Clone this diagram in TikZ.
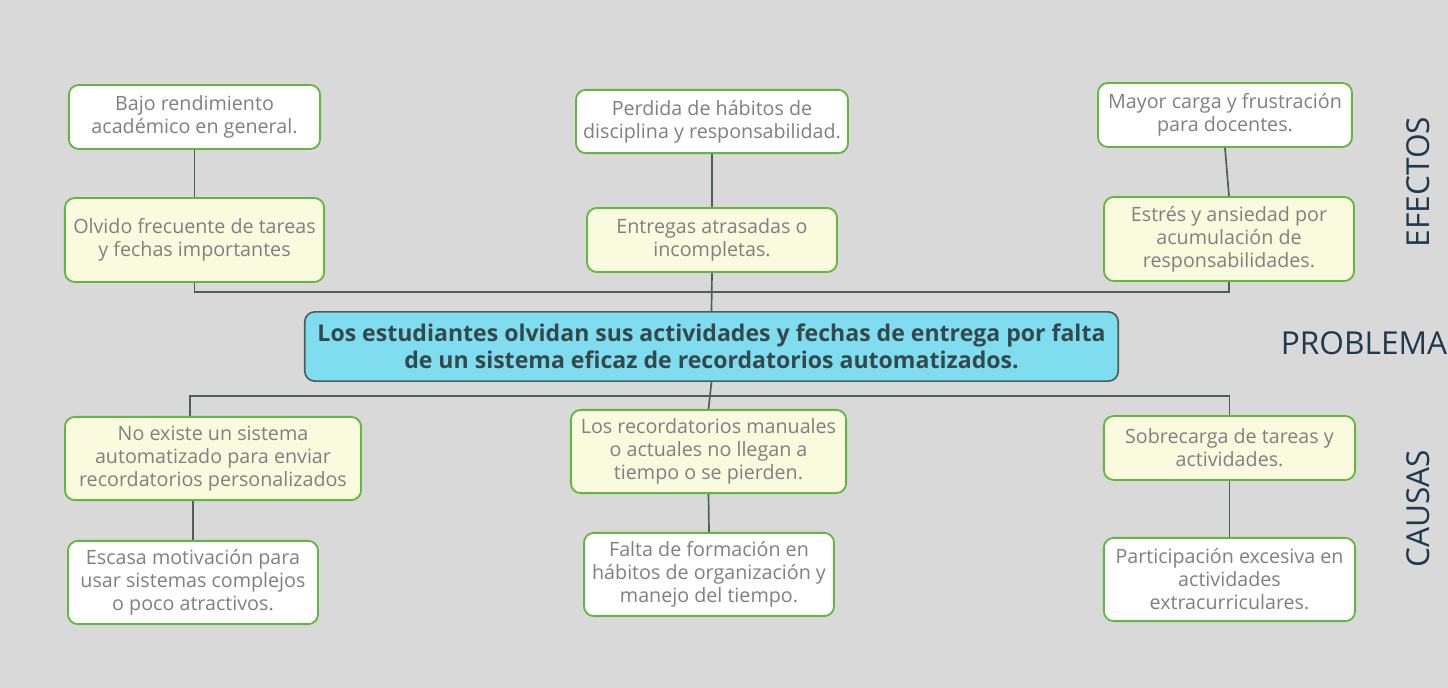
\documentclass[tikz,border=0pt]{standalone}
\usepackage{fontspec}
\setmainfont{Open Sans}
\usetikzlibrary{positioning}

\definecolor{fondo}{HTML}{D9D9D9}
\definecolor{borde}{HTML}{62B83E}
\definecolor{amarillo}{HTML}{FAFADF}
\definecolor{celeste}{HTML}{80DCEF}
\definecolor{linea}{HTML}{4B605C}
\definecolor{texto}{HTML}{808080}
\definecolor{rotulo}{HTML}{1F3A4F}
\definecolor{textocentral}{HTML}{34494C}

\tikzset{
    caja/.style={draw=borde, line width=1.3pt, rounded corners=7pt, fill=white,
        align=center, inner sep=0pt, text=texto,
        font=\fontsize{14}{16.3}\selectfont},
    cajaam/.style={caja, fill=amarillo},
    central/.style={draw=linea, line width=1.2pt, rounded corners=7pt, fill=celeste,
        align=center, inner sep=0pt, text=textocentral,
        font=\fontsize{16.4}{19.5}\selectfont\bfseries},
    rotulo/.style={text=rotulo, font=\fontsize{22.5}{24}\selectfont},
    conector/.style={draw=linea, line width=1.2pt}
}

\begin{document}
\begin{tikzpicture}[x=0.025cm, y=-0.025cm]
        % Fondo
        \fill[fondo] (0,0) rectangle (1448,688);
        \useasboundingbox (0,0) rectangle (1448,688);

        % Efectos (fila superior)
        \node[caja, minimum width=6.28cm, minimum height=1.6cm] (e1) at (194.5,117) {Bajo rendimiento\\académico en general.};
        \node[caja, minimum width=6.8cm, minimum height=1.58cm] (e2) at (712,121.5) {Perdida de hábitos de\\disciplina y responsabilidad.};
        \node[caja, minimum width=6.35cm, minimum height=1.6cm] (e3) at (1225,115) {Mayor carga y frustración\\para docentes.};

        % Efectos directos
        \node[cajaam, minimum width=6.48cm, minimum height=2.1cm] (f1) at (194.5,240) {Olvido frecuente de tareas\\y fechas importantes};
        \node[cajaam, minimum width=6.25cm, minimum height=1.6cm] (f2) at (712,240) {Entregas atrasadas o\\incompletas.};
        \node[cajaam, minimum width=6.25cm, minimum height=2.1cm] (f3) at (1229,239) {Estrés y ansiedad por\\acumulación de\\responsabilidades.};

        % Problema central
        \node[central, minimum width=20.33cm, minimum height=1.73cm] (prob) at (711.5,346.5) {Los estudiantes olvidan sus actividades y fechas de entrega por falta\\de un sistema eficaz de recordatorios automatizados.};

        % Causas directas
        \node[cajaam, minimum width=7.4cm, minimum height=2.08cm] (c1) at (213,458.5) {No existe un sistema\\automatizado para enviar\\recordatorios personalizados};
        \node[cajaam, minimum width=6.88cm, minimum height=2.08cm] (c2) at (708.5,451.5) {Los recordatorios manuales\\o actuales no llegan a\\tiempo o se pierden.};
        \node[cajaam, minimum width=6.28cm, minimum height=1.6cm] (c3) at (1229.5,448) {Sobrecarga de tareas y\\actividades.};

        % Causas de fondo
        \node[caja, minimum width=6.25cm, minimum height=2.08cm] (d1) at (193,582.5) {Escasa motivación para\\usar sistemas complejos\\o poco atractivos.};
        \node[caja, minimum width=6.25cm, minimum height=2.08cm] (d2) at (709,574.5) {Falta de formación en\\hábitos de organización y\\manejo del tiempo.};
        \node[caja, minimum width=6.28cm, minimum height=2.08cm] (d3) at (1229.5,579.5) {Participación excesiva en\\actividades\\extracurriculares.};

        % Rotulos
        \node[rotulo, rotate=90] (efectos) at (1418,182) {EFECTOS};
        \node[rotulo] (problema) at (1364,343) {PROBLEMA};
        \node[rotulo, rotate=90] (causas) at (1418,509) {CAUSAS};

        % Conectores de efectos
        \draw[conector] (e1.south) -- (f1.north);
        \draw[conector] (e2.south) -- (f2.north);
        \draw[conector] (e3.south) -- (f3.north);
        \draw[conector] (f1.south) -- ++(0,9) -| (f3.south);
        \draw[conector] (f2.south) -- (prob.north);

        % Conectores de causas
        \coordinate (bus1) at (190,396);
        \draw[conector] (c1.north -| bus1) -- (bus1) -| (c3.north);
        \draw[conector] (prob.south) -- (c2.north);
        \draw[conector] (d1.north |- c1.south) -- (d1.north);
        \draw[conector] (c2.south) -- (d2.north);
        \draw[conector] (c3.south) -- (d3.north);

\end{tikzpicture}
\end{document}
